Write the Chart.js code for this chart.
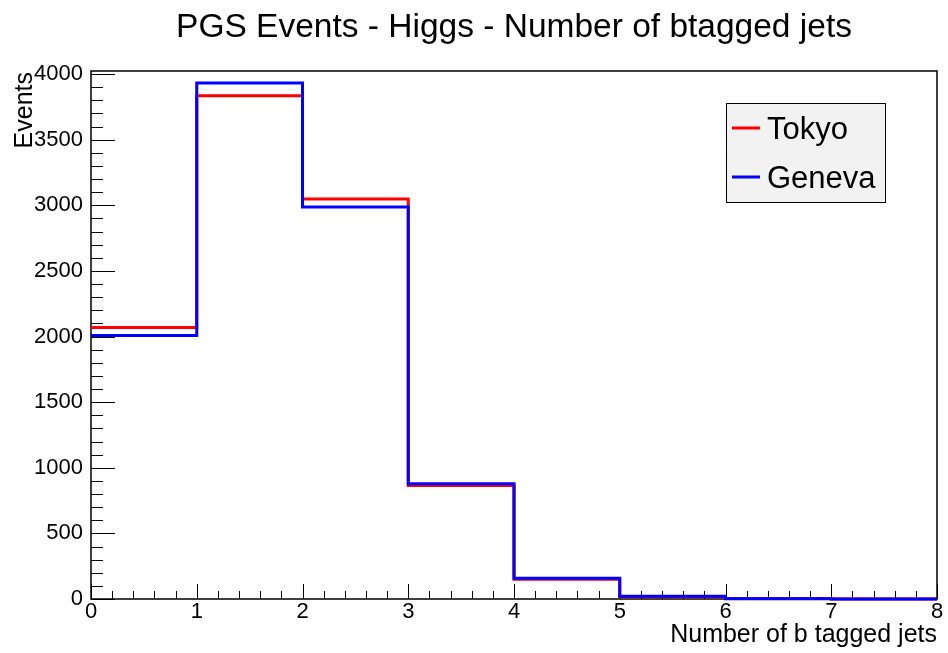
<!DOCTYPE html>
<html>
<head>
<meta charset="utf-8">
<script src="https://cdn.jsdelivr.net/npm/chart.js@4"></script>
<style>
  body { margin: 0; background: #fff; }
  canvas { display: block; }
</style>
</head>
<body>
<canvas id="histChart" width="948" height="653"></canvas>
<script>
// Histogram bins (left edges) and contents
const binEdges = [0, 1, 2, 3, 4, 5, 6, 7, 8];
const tokyo = [2068, 3835, 3047, 865, 151, 18, 3, 0];
const geneva = [2008, 3931, 2986, 878, 158, 21, 2, 0];
const seriesNames = ['Tokyo', 'Geneva'];
const seriesColors = ['#ff0000', '#0000ff'];
const yTickValues = [0, 500, 1000, 1500, 2000, 2500, 3000, 3500, 4000];
const xTickValues = [0, 1, 2, 3, 4, 5, 6, 7, 8];

const FONT = '"Liberation Sans", Arial, Helvetica, sans-serif';

// step points: one per bin left edge, plus closing point at the last edge
function stepPoints(vals) {
    const pts = vals.map((v, i) => ({ x: binEdges[i], y: v }));
    pts.push({ x: binEdges[binEdges.length - 1], y: vals[vals.length - 1] });
    return pts;
}

// ROOT-like frame with ticks pointing inwards, plus title/legend
const framePlugin = {
    id: 'frame',
    beforeDatasetsDraw(chart) {
        const { ctx, chartArea: a, scales: { x, y } } = chart;
        ctx.save();
        ctx.strokeStyle = '#000';
        ctx.lineWidth = 1;
        ctx.beginPath();
        for (let v = 0; v <= 4000; v += 100) {
            const py = Math.round(y.getPixelForValue(v)) + 0.5;
            const len = v % 500 === 0 ? 24 : 12;
            ctx.moveTo(a.left, py);
            ctx.lineTo(a.left + len, py);
        }
        for (let i = 0; i <= 40; i++) {
            const px = Math.round(x.getPixelForValue(i / 5)) + 0.5;
            const len = i % 5 === 0 ? 15 : 8;
            ctx.moveTo(px, a.bottom);
            ctx.lineTo(px, a.bottom - len);
        }
        ctx.stroke();
        ctx.lineWidth = 1.5;
        ctx.strokeRect(a.left, a.top, a.right - a.left, a.bottom - a.top);
        ctx.restore();
    },
    afterDraw(chart) {
        const { ctx, chartArea: a } = chart;
        ctx.save();
        ctx.fillStyle = '#000';
        // title
        ctx.font = '33.5px ' + FONT;
        ctx.textAlign = 'center';
        ctx.textBaseline = 'alphabetic';
        ctx.fillText('PGS Events - Higgs - Number of btagged jets', (a.left + a.right) / 2, 37);
        // x axis title
        ctx.font = '25px ' + FONT;
        ctx.textAlign = 'right';
        ctx.fillText('Number of b tagged jets', a.right, 642);
        // y axis title
        ctx.save();
        ctx.translate(32, a.top + 1);
        ctx.rotate(-Math.PI / 2);
        ctx.textAlign = 'right';
        ctx.fillText('Events', 0, 0);
        ctx.restore();
        // legend box
        ctx.fillStyle = '#f2f2f2';
        ctx.fillRect(726.5, 103.5, 159, 99);
        ctx.strokeStyle = '#000';
        ctx.lineWidth = 1;
        ctx.strokeRect(726.5, 103.5, 159, 99);
        const rowY = [128, 177];
        ctx.font = '31px ' + FONT;
        ctx.textAlign = 'left';
        ctx.textBaseline = 'middle';
        seriesNames.forEach((name, i) => {
            ctx.strokeStyle = seriesColors[i];
            ctx.lineWidth = 3;
            ctx.beginPath();
            ctx.moveTo(732, rowY[i]);
            ctx.lineTo(760, rowY[i]);
            ctx.stroke();
            ctx.fillStyle = '#000';
            ctx.fillText(name, 767, rowY[i] + 2);
        });
        ctx.restore();
    }
};

const ctx = document.getElementById('histChart').getContext('2d');
const histChart = new Chart(ctx, {
    type: 'line',
    data: {
        datasets: [
            {
                label: seriesNames[0],
                data: stepPoints(tokyo),
                borderColor: seriesColors[0],
                borderWidth: 3,
                stepped: true,
                pointRadius: 0,
                fill: false,
                order: 1,
                clip: 4
            },
            {
                label: seriesNames[1],
                data: stepPoints(geneva),
                borderColor: seriesColors[1],
                borderWidth: 3,
                stepped: true,
                pointRadius: 0,
                fill: false,
                order: 0,
                clip: 4
            }
        ]
    },
    options: {
        responsive: false,
        animation: false,
        devicePixelRatio: 1,
        layout: { padding: { top: 71, right: 11, left: 0, bottom: 0 } },
        plugins: {
            legend: { display: false },
            title: { display: false },
            tooltip: { enabled: false }
        },
        scales: {
            x: {
                type: 'linear',
                min: 0,
                max: 8,
                grid: { display: false, drawTicks: false },
                border: { display: false },
                ticks: {
                    padding: 0,
                    color: '#000',
                    font: { family: FONT, size: 22 },
                    maxRotation: 0,
                    callback: v => String(v)
                },
                afterBuildTicks(scale) { scale.ticks = xTickValues.map(v => ({ value: v })); },
                afterFit(scale) { scale.height = 54; }
            },
            y: {
                min: 0,
                max: 4023,
                grid: { display: false, drawTicks: false },
                border: { display: false },
                ticks: {
                    padding: 8,
                    color: '#000',
                    font: { family: FONT, size: 22 },
                    callback: v => String(v)
                },
                afterBuildTicks(scale) { scale.ticks = yTickValues.map(v => ({ value: v })); },
                afterFit(scale) { scale.width = 91; }
            }
        }
    },
    plugins: [framePlugin]
});
</script>
</body>
</html>
